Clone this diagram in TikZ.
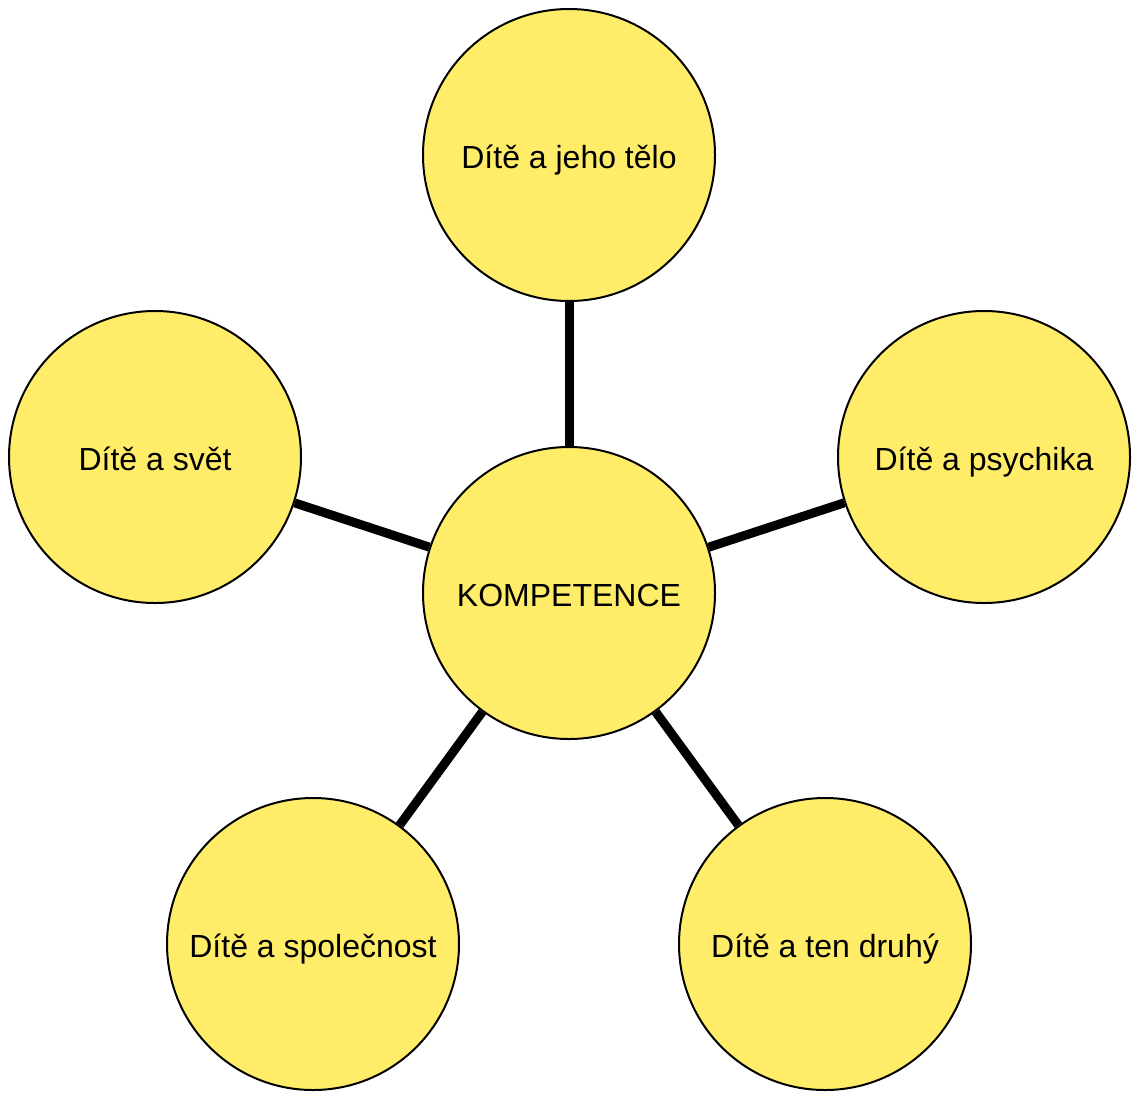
\documentclass[tikz,border=0pt]{standalone}
\usepackage{fontspec}
\setmainfont{Liberation Sans}
\definecolor{bub}{HTML}{FFED6A}
\newcommand\bubtext[1]{\raisebox{-13pt}[0pt][0pt]{#1}}
\begin{document}
\begin{tikzpicture}[x=1pt,y=-1pt,
  bubble/.style={circle,draw=black,line width=2pt,fill=bub,minimum size=292pt,inner sep=0pt,
    font=\fontsize{32}{36}\selectfont},
  link/.style={line width=9pt,draw=black}]
\useasboundingbox (0,0) rectangle (1134,1095);
\node[bubble] (c) at (569,593) {\bubtext{KOMPETENCE}};
\node[bubble] (t) at (569,155) {\bubtext{Dítě a jeho tělo}};
\node[bubble] (l) at (155,457) {\bubtext{Dítě a svět}};
\node[bubble] (r) at (984,457) {\bubtext{Dítě a psychika}};
\node[bubble] (bl) at (313,944) {\bubtext{Dítě a společnost}};
\node[bubble] (br) at (825,944) {\bubtext{Dítě a ten druhý}};
\draw[link] (c) -- (t);
\draw[link] (c) -- (l);
\draw[link] (c) -- (r);
\draw[link] (c) -- (bl);
\draw[link] (c) -- (br);
\end{tikzpicture}
\end{document}
